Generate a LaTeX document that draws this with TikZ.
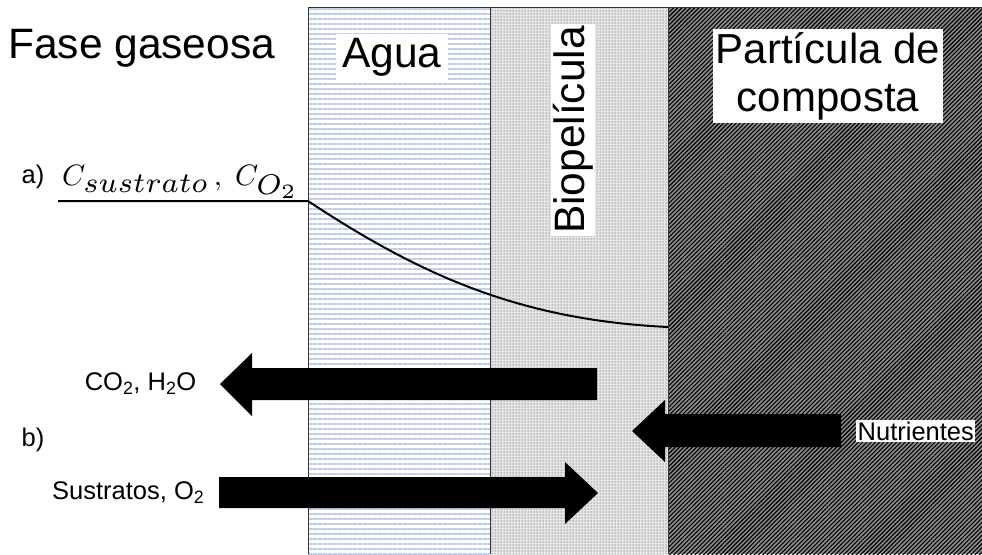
\documentclass[tikz,border=0pt]{standalone}
\usepackage{fontspec}
\setmainfont{Liberation Sans}
\usetikzlibrary{patterns.meta}
\definecolor{wavecol}{RGB}{120,150,215}
\newcommand{\bigsub}[1]{\scalebox{1.38}{$\scriptstyle #1$}}
\tikzset{
  zone/.style={draw=black!80, line width=0.8pt},
  bigtxt/.style={font=\fontsize{42.5}{45}\selectfont, inner sep=2pt},
  smalltxt/.style={font=\fontsize{25.5}{28}\selectfont, inner sep=1.5pt},
  whitebox/.style={fill=white},
  blockarrow/.style={fill=black, draw=none},
  profile/.style={line width=2pt, draw=black}
}
\begin{document}
\begin{tikzpicture}[x=1pt,y=-1pt]
\useasboundingbox (0,0) rectangle (982,554);
% zones
\fill[white] (308,7) rectangle (490,554);
\fill[pattern={Lines[angle=0,distance=5pt,line width=1.1pt]}, pattern color=wavecol!48] (308,7) rectangle (490,554);
\fill[black!10] (490,7) rectangle (668,554);
\fill[pattern={Dots[distance=3pt,radius=0.75pt]}, pattern color=black!40] (490,7) rectangle (668,554);
\fill[black!45] (668,7) rectangle (982,554);
\fill[pattern={Lines[angle=45,distance=3pt,line width=1.1pt]}, pattern color=black] (668,7) rectangle (982,554);
\draw[zone] (308,554) -- (308,7) -- (982,7);
\draw[zone] (490,7) -- (490,554);
\draw[zone] (668,7) -- (668,554);
% titles
\node[bigtxt, anchor=west] (gas) at (6,48) {Fase gaseosa};
\node[bigtxt, whitebox, inner xsep=6pt, inner ysep=4pt] (agua) at (392,57) {Agua};
\node[bigtxt, whitebox, rotate=90, minimum width=210pt] (bio) at (573,130) {Biopelícula};
\node[bigtxt, whitebox, align=center, inner sep=3pt, font=\fontsize{42}{48}\selectfont] (comp) at (828,76) {Partícula de\\composta};
% a) profile
\node[smalltxt, anchor=west] (la) at (20,177) {a)};
\node[anchor=base west, inner sep=0pt] (conc) at (62,185) {\scalebox{2.95}{$C_{\bigsub{sustrato}}\,,\;C_{\bigsub{O_2}}$}};
\coordinate (p0) at (58,201);
\coordinate (p1) at (308,201);
\coordinate (p2) at (668,327);
\draw[profile] (p0) -- (p1) .. controls (420,275) and (520,320) .. (p2);
% b) fluxes
\node[smalltxt, anchor=west] (lb) at (20,440) {b)};
\node[smalltxt, anchor=east] (co2) at (198,384) {CO\textsubscript{2}, H\textsubscript{2}O};
\node[smalltxt, anchor=east] (sus) at (206,493) {Sustratos, O\textsubscript{2}};
\node[smalltxt, whitebox, anchor=west] (nut) at (856,431) {Nutrientes};
\fill[blockarrow] (597,368) -- (252,368) -- (252,353) -- (220,384) -- (252,416) -- (252,400) -- (597,400) -- cycle;
\fill[blockarrow] (219,477) -- (565,477) -- (565,462) -- (598,493) -- (565,524) -- (565,508) -- (219,508) -- cycle;
\fill[blockarrow] (841,414) -- (665,414) -- (665,400) -- (632,431) -- (665,462) -- (665,447) -- (841,447) -- cycle;
\end{tikzpicture}
\end{document}
